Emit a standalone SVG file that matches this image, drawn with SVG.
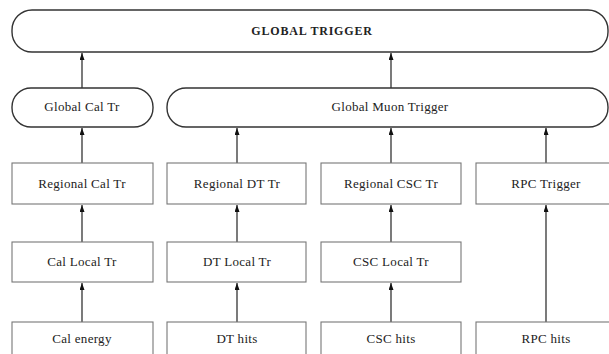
<svg xmlns="http://www.w3.org/2000/svg" width="609" height="354" viewBox="0 0 609 354">
<defs>
<marker id="ah" markerWidth="7" markerHeight="5" refX="7" refY="2.5" orient="auto" markerUnits="userSpaceOnUse" viewBox="0 0 7 5">
<path d="M0 0 L7 2.5 L0 5 Z" fill="#111"/>
</marker>
<style>
.rnd{fill:#fff;stroke:#333;stroke-width:1.4}
.box{fill:#fff;stroke:#777;stroke-width:1.1}
.t{font-family:"Liberation Serif",serif;font-size:13px;letter-spacing:0.3px;fill:#222;text-anchor:middle}
.tb{font-family:"Liberation Serif",serif;font-size:12px;letter-spacing:0.8px;font-weight:bold;fill:#222;text-anchor:middle}
.c{stroke:#222;stroke-width:1.2;fill:none;marker-end:url(#ah)}
</style>
</defs>
<rect width="609" height="354" fill="#fff"/>
<g id="connectors">
<line class="c" x1="82" y1="88" x2="82" y2="53"/>
<line class="c" x1="391" y1="88" x2="391" y2="53"/>
<line class="c" x1="82" y1="163" x2="82" y2="128"/>
<line class="c" x1="237" y1="163" x2="237" y2="128"/>
<line class="c" x1="391" y1="163" x2="391" y2="128"/>
<line class="c" x1="546" y1="163" x2="546" y2="128"/>
<line class="c" x1="82" y1="242" x2="82" y2="205"/>
<line class="c" x1="237" y1="242" x2="237" y2="205"/>
<line class="c" x1="391" y1="242" x2="391" y2="205"/>
<line class="c" x1="82" y1="322" x2="82" y2="283"/>
<line class="c" x1="237" y1="322" x2="237" y2="283"/>
<line class="c" x1="391" y1="322" x2="391" y2="283"/>
<line class="c" x1="546" y1="322" x2="546" y2="205"/>
</g>
<g id="global-trigger"><rect class="rnd" x="12" y="10" width="596" height="42" rx="20" ry="20"/><text class="tb" x="312" y="35">GLOBAL TRIGGER</text></g>
<g id="global-cal"><rect class="rnd" x="12" y="88" width="141" height="39" rx="19" ry="19"/><text class="t" x="82" y="111">Global Cal Tr</text></g>
<g id="global-muon"><rect class="rnd" x="167" y="88" width="441" height="39" rx="19" ry="19"/><text class="t" x="390" y="111">Global Muon Trigger</text></g>
<g id="regional-cal"><rect class="box" x="12" y="163" width="141" height="41"/><text class="t" x="82" y="188">Regional Cal Tr</text></g>
<g id="regional-dt"><rect class="box" x="167" y="163" width="139" height="41"/><text class="t" x="237" y="188">Regional DT Tr</text></g>
<g id="regional-csc"><rect class="box" x="321" y="163" width="140" height="41"/><text class="t" x="391" y="188">Regional CSC Tr</text></g>
<g id="rpc-trigger"><rect class="box" x="476" y="163" width="140" height="41"/><text class="t" x="546" y="188">RPC Trigger</text></g>
<g id="cal-local"><rect class="box" x="12" y="242" width="141" height="40"/><text class="t" x="82" y="266">Cal Local Tr</text></g>
<g id="dt-local"><rect class="box" x="167" y="242" width="139" height="40"/><text class="t" x="237" y="266">DT Local Tr</text></g>
<g id="csc-local"><rect class="box" x="321" y="242" width="140" height="40"/><text class="t" x="391" y="266">CSC Local Tr</text></g>
<g id="cal-energy"><rect class="box" x="12" y="322" width="141" height="40"/><text class="t" x="82" y="343">Cal energy</text></g>
<g id="dt-hits"><rect class="box" x="167" y="322" width="139" height="40"/><text class="t" x="237" y="343">DT hits</text></g>
<g id="csc-hits"><rect class="box" x="321" y="322" width="140" height="40"/><text class="t" x="391" y="343">CSC hits</text></g>
<g id="rpc-hits"><rect class="box" x="476" y="322" width="140" height="40"/><text class="t" x="546" y="343">RPC hits</text></g>
</svg>
